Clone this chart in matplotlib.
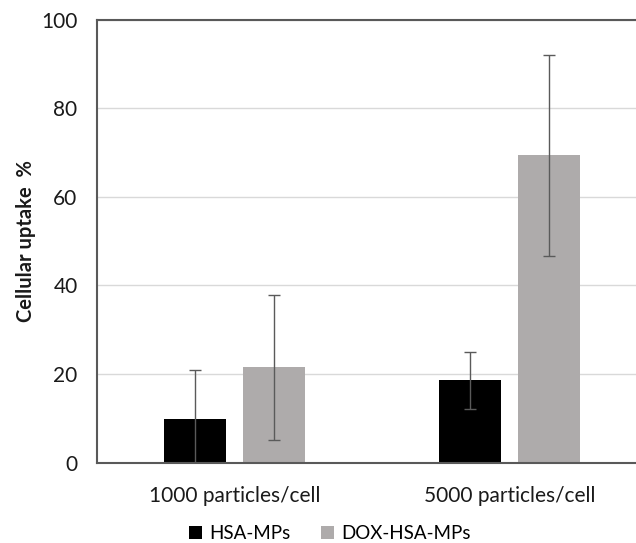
import numpy as np
import matplotlib
matplotlib.use('Agg')
import matplotlib.pyplot as plt
from matplotlib.patches import Patch

plt.rcParams['font.family'] = ['Lato', 'DejaVu Sans']

categories = ['1000 particles/cell', '5000 particles/cell']
hsa_mean = [9.9, 18.6]
hsa_err = [11.1, 6.4]
dox_mean = [21.5, 69.4]
dox_err = [16.3, 22.7]
series_names = ['HSA-MPs', 'DOX-HSA-MPs']
colors = ['#000000', '#AEABAB']
err_color = '#5A5A5A'

fig = plt.figure(figsize=(6.36, 5.43), dpi=100)
# plot area runs past the right edge of the picture, like the cropped original
ax = fig.add_axes([97 / 636, 0.148, 550 / 636, 0.816])

x = np.arange(len(categories))
w = 0.224
off = 0.143
ax.bar(x - off, hsa_mean, w, color=colors[0], zorder=2)
ax.bar(x + off, dox_mean, w, color=colors[1], zorder=2)
ax.errorbar(x - off, hsa_mean, yerr=hsa_err, fmt='none', ecolor=err_color,
            elinewidth=1, capsize=4, capthick=1, zorder=3)
ax.errorbar(x + off, dox_mean, yerr=dox_err, fmt='none', ecolor=err_color,
            elinewidth=1, capsize=4, capthick=1, zorder=3)

ax.set_xlim(-0.5, 1.5)
ax.set_ylim(0, 100)
ax.set_yticks([0, 20, 40, 60, 80, 100])
ax.set_xticks(x)
ax.set_xticklabels(categories, fontsize=15, color='#1a1a1a')
ax.tick_params(axis='both', length=0, labelsize=15, colors='#1a1a1a')
ax.tick_params(axis='x', pad=17)
ax.tick_params(axis='y', pad=14)
ax.grid(axis='y', color='#D9D9D9', linewidth=1, zorder=0)
for s in ax.spines.values():
    s.set_color('#595959')
    s.set_linewidth(1.5)

ax.set_ylabel('Cellular uptake  %', fontsize=14.5, fontweight='bold',
              color='#1a1a1a', labelpad=4)

handles = [Patch(facecolor=c, edgecolor='none') for c in colors]
fig.legend(handles, series_names, loc='center', bbox_to_anchor=(330 / 636, 0.017),
           ncol=2, frameon=False, fontsize=13.5, handlelength=0.7, handleheight=0.7,
           handletextpad=0.4, columnspacing=1.6, borderpad=0.0)

fig.savefig('out.png', dpi=100)
